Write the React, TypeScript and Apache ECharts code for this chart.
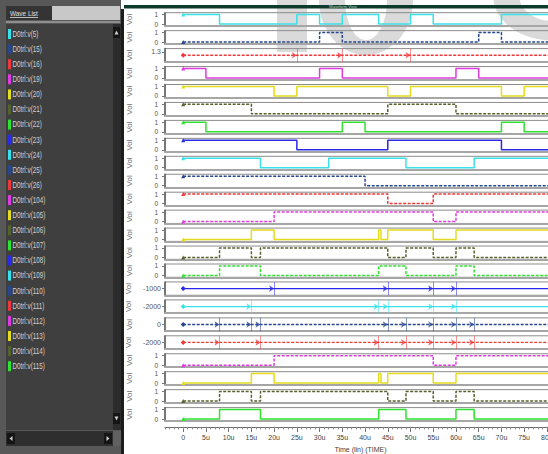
import React, { useEffect, useRef } from "react";
import * as echarts from "echarts";

// ---------- data ----------
const signalNames = [
  "D0trl:v(5)", "D0trl:v(15)", "D0trl:v(16)", "D0trl:v(19)", "D0trl:v(20)", "D0trl:v(21)",
  "D0trl:v(22)", "D0trl:v(23)", "D0trl:v(24)", "D0trl:v(25)", "D0trl:v(26)", "D0trl:v(104)",
  "D0trl:v(105)", "D0trl:v(106)", "D0trl:v(107)", "D0trl:v(108)", "D0trl:v(109)", "D0trl:v(110)",
  "D0trl:v(111)", "D0trl:v(112)", "D0trl:v(113)", "D0trl:v(114)", "D0trl:v(115)",
];

const cyan = "#38e2ea";
const navy = "#27468c";
const red = "#f0383a";
const magenta = "#e03ae0";
const yellow = "#e4dc1c";
const olive = "#56622c";
const green = "#2ee22e";
const blue = "#2a2ae8";

const signalColors = [
  cyan, navy, red, magenta, yellow, olive, green, blue,
  cyan, navy, red, magenta, yellow, olive, green, blue,
  cyan, navy, red, magenta, yellow, olive, green,
];

// digital signals: starting level and toggle times (u)
const v5Start = 1;   const v5Toggles = [8, 25, 30, 35, 43, 50, 55, 70];
const v15Start = 0;  const v15Toggles = [30, 35, 65, 70];
const v19Start = 1;  const v19Toggles = [5, 30, 35, 60, 65];
const v20Start = 1;  const v20Toggles = [20, 25, 45, 50, 70, 75];
const v21Start = 1;  const v21Toggles = [15, 45, 60];
const v22Start = 1;  const v22Toggles = [5, 35, 40, 70, 75];
const v23Start = 1;  const v23Toggles = [25, 45, 70];
const v24Start = 1;  const v24Toggles = [17, 32, 49, 64];
const v25Start = 1;  const v25Toggles = [40];
const v26Start = 1;  const v26Toggles = [45, 55];
const v104Start = 0; const v104Toggles = [20, 55, 60];
const v105Start = 0; const v105Toggles = [15, 20, 43, 43.5, 45, 55, 60];
const v106Start = 0; const v106Toggles = [8, 15, 17, 45, 49, 55, 60, 64];
const v107Start = 0; const v107Toggles = [8, 17, 43, 49, 60, 64];
const v112Start = 0; const v112Toggles = [20, 55, 60];
const v113Start = 0; const v113Toggles = [15, 20, 43, 43.5, 45, 55, 60];
const v114Start = 0; const v114Toggles = [8, 15, 17, 45, 49, 55, 60, 64];
const v115Start = 0; const v115Toggles = [8, 17, 43, 49, 60, 64];

// constant (analog) signals: level and event marks (u)
const v16Level = 1.2;    const v16Marks = [0, 25, 35, 50];
const v108Level = -1000; const v108Marks = [0, 20, 45, 55, 60];
const v109Level = -2000; const v109Marks = [0, 15, 43, 45, 55, 60];
const v110Level = 0;     const v110Marks = [0, 8, 15, 17, 45, 49, 55, 60, 64];
const v111Level = -2000; const v111Marks = [0, 8, 17, 43, 49, 55, 60, 64];

const dashedRows = [
  false, true, true, false, false, true, false, false, false, true, true, true,
  false, true, true, false, false, true, true, true, false, true, false,
];

const xTickValues = [0, 5, 10, 15, 20, 25, 30, 35, 40, 45, 50, 55, 60, 65, 70, 75, 80];
const xTickLabels = ["0", "5u", "10u", "15u", "20u", "25u", "30u", "35u", "40u", "45u", "50u", "55u", "60u", "65u", "70u", "75u", "80u"];

type Row =
  | { kind: "digital"; start: number; toggles: number[] }
  | { kind: "analog"; level: number; marks: number[]; min: number; max: number; labels: number[] };

const rows: Row[] = [
  { kind: "digital", start: v5Start, toggles: v5Toggles },
  { kind: "digital", start: v15Start, toggles: v15Toggles },
  { kind: "analog", level: v16Level, marks: v16Marks, min: 1.0, max: 1.4, labels: [1.1, 1.3] },
  { kind: "digital", start: v19Start, toggles: v19Toggles },
  { kind: "digital", start: v20Start, toggles: v20Toggles },
  { kind: "digital", start: v21Start, toggles: v21Toggles },
  { kind: "digital", start: v22Start, toggles: v22Toggles },
  { kind: "digital", start: v23Start, toggles: v23Toggles },
  { kind: "digital", start: v24Start, toggles: v24Toggles },
  { kind: "digital", start: v25Start, toggles: v25Toggles },
  { kind: "digital", start: v26Start, toggles: v26Toggles },
  { kind: "digital", start: v104Start, toggles: v104Toggles },
  { kind: "digital", start: v105Start, toggles: v105Toggles },
  { kind: "digital", start: v106Start, toggles: v106Toggles },
  { kind: "digital", start: v107Start, toggles: v107Toggles },
  { kind: "analog", level: v108Level, marks: v108Marks, min: -1600, max: -400, labels: [-1000] },
  { kind: "analog", level: v109Level, marks: v109Marks, min: -2600, max: -1400, labels: [-2000] },
  { kind: "analog", level: v110Level, marks: v110Marks, min: -600, max: 600, labels: [0] },
  { kind: "analog", level: v111Level, marks: v111Marks, min: -2600, max: -1400, labels: [-2000] },
  { kind: "digital", start: v112Start, toggles: v112Toggles },
  { kind: "digital", start: v113Start, toggles: v113Toggles },
  { kind: "digital", start: v114Start, toggles: v114Toggles },
  { kind: "digital", start: v115Start, toggles: v115Toggles },
];

// ---------- layout ----------
const CHART_W = 570;
const CHART_H = 454;
const X_MIN = -4;
const X_MAX = 82;
const GRID_LEFT = 165;
const GRID_RIGHT = 14;
const ROW_TOP0 = 12.7;
const ROW_STEP = 17.95;
const ROW_H = 13.3;
const FONT = "Liberation Sans";

function buildOption() {
  const grid: any[] = [];
  const xAxis: any[] = [];
  const yAxis: any[] = [];
  const series: any[] = [];
  const n = rows.length;

  rows.forEach((row, i) => {
    const color = signalColors[i];
    grid.push({
      left: GRID_LEFT,
      right: GRID_RIGHT,
      top: ROW_TOP0 + ROW_STEP * i,
      height: ROW_H,
      show: true,
      borderColor: "#8c8c8c",
      borderWidth: 1,
      backgroundColor: "transparent",
    });
    xAxis.push({
      gridIndex: i,
      type: "value",
      min: X_MIN,
      max: X_MAX,
      axisLine: { show: true, onZero: false, lineStyle: { color: "#a6a6a6", width: 2 } },
      axisTick: { show: false },
      axisLabel: { show: false },
      splitLine: { show: false },
    });
    const isDigital = row.kind === "digital";
    const yMin = isDigital ? -0.2 : (row as any).min;
    const yMax = isDigital ? 1.2 : (row as any).max;
    const labelVals = isDigital ? [0, 1] : (row as any).labels;
    yAxis.push({
      gridIndex: i,
      type: "value",
      min: yMin,
      max: yMax,
      axisLine: { show: true, onZero: false, lineStyle: { color: "#5c5c5c", width: 1.5 } },
      axisTick: {
        show: true,
        length: 3,
        customValues: labelVals,
        lineStyle: { color: "#777" },
      },
      axisLabel: {
        show: true,
        customValues: labelVals,
        fontSize: isDigital ? 6.5 : 7,
        color: "#555",
        margin: isDigital ? 7 : 4,
        fontFamily: FONT,
        formatter: (v: number) => String(v),
      },
      splitLine: { show: false },
      name: "Vol",
      nameLocation: "middle",
      nameRotate: 90,
      nameGap: 32,
      nameTextStyle: { fontSize: 8, color: "#6a6a6a", fontFamily: FONT },
    });

    const lineType = dashedRows[i] ? [3, 1.5] : "solid";
    if (row.kind === "digital") {
      let level = row.start;
      const data: any[] = [
        { value: [0, level], symbol: "triangle", symbolSize: 4 },
      ];
      row.toggles.forEach((t) => {
        level = level === 1 ? 0 : 1;
        data.push([t, level]);
      });
      data.push([X_MAX, level]);
      series.push({
        type: "line",
        xAxisIndex: i,
        yAxisIndex: i,
        step: "end",
        data,
        showSymbol: true,
        symbol: "none",
        silent: true,
        lineStyle: { color, width: 1.5, type: lineType },
        itemStyle: { color },
      });
    } else {
      series.push({
        type: "line",
        xAxisIndex: i,
        yAxisIndex: i,
        data: [
          { value: [0, row.level], symbol: "diamond", symbolSize: 5 },
          [X_MAX, row.level],
        ],
        showSymbol: true,
        symbol: "none",
        silent: true,
        lineStyle: { color, width: 1.3, type: lineType },
        itemStyle: { color },
        markLine: {
          silent: true,
          symbol: "none",
          label: { show: false },
          lineStyle: { color, width: 1, type: "solid", opacity: 0.55 },
          data: row.marks.filter((m) => m > 0).map((m) => ({ xAxis: m })),
        },
      });
      series.push({
        type: "scatter",
        xAxisIndex: i,
        yAxisIndex: i,
        silent: true,
        symbol: "arrow",
        symbolRotate: -90,
        symbolSize: 5,
        itemStyle: { color },
        data: row.marks.filter((m) => m > 0).map((m) => [m, row.level]),
      });
    }
  });

  // time axis (major ticks + labels)
  xAxis.push({
    gridIndex: n - 1,
    type: "value",
    position: "bottom",
    offset: 6,
    min: X_MIN,
    max: X_MAX,
    axisLine: { show: true, onZero: false, lineStyle: { color: "#6a6a6a", width: 1 } },
    axisTick: { show: true, length: 5, customValues: xTickValues, lineStyle: { color: "#6a6a6a" } },
    axisLabel: {
      show: true,
      customValues: xTickValues,
      formatter: (v: number) => xTickLabels[xTickValues.indexOf(v)] ?? "",
      fontSize: 7,
      color: "#444",
      margin: 7,
      fontFamily: FONT,
    },
    splitLine: { show: false },
    name: "Time (lin) (TIME)",
    nameLocation: "middle",
    nameGap: 19,
    nameTextStyle: { fontSize: 7, color: "#444", fontFamily: FONT },
  });
  // time axis (minor ticks)
  xAxis.push({
    gridIndex: n - 1,
    type: "value",
    position: "bottom",
    offset: 6,
    min: X_MIN,
    max: X_MAX,
    interval: 1,
    axisLine: { show: false, onZero: false },
    axisTick: { show: true, length: 2.5, lineStyle: { color: "#8a8a8a" } },
    axisLabel: { show: false },
    splitLine: { show: false },
  });

  // ---------- graphic: left wave list panel, top bar, watermark ----------
  const g: any[] = [];
  // watermark (behind everything)
  g.push({ type: "rect", z: -10, shape: { x: 277, y: 0, width: 30, height: 52 }, style: { fill: "#dadada" } });
  g.push({ type: "ellipse", z: -10, shape: { cx: 366, cy: 0, rx: 47, ry: 55 }, style: { fill: "#dadada" } });
  g.push({ type: "ellipse", z: -9, shape: { cx: 366, cy: 0, rx: 21, ry: 40 }, style: { fill: "#ffffff" } });
  g.push({ type: "ellipse", z: -10, shape: { cx: 550, cy: -5, rx: 57, ry: 45 }, style: { fill: "#dadada" } });
  g.push({ type: "ellipse", z: -9, shape: { cx: 552, cy: -5, rx: 33, ry: 26 }, style: { fill: "#ffffff" } });

  // top dark green bar
  g.push({ type: "rect", z: 50, shape: { x: 124, y: 5, width: 430, height: 3.5 }, style: { fill: "#0e3a2c" } });
  g.push({
    type: "text", z: 51, x: 343, y: 6.8,
    style: { text: "Waveform View", fontSize: 4, fill: "#b8d8c8", align: "center", verticalAlign: "middle", fontFamily: FONT },
  });

  // left panel
  const zP = 100;
  g.push({ type: "rect", z: zP, shape: { x: 0, y: 0, width: 121, height: 454 }, style: { fill: "#585858" } });
  g.push({ type: "rect", z: zP, shape: { x: 6, y: 6, width: 46, height: 14 }, style: { fill: "#343434" } });
  g.push({
    type: "text", z: zP + 1, x: 10, y: 13,
    scaleX: 0.8,
    style: { text: "Wave List", fontSize: 8, fill: "#e0e0e0", verticalAlign: "middle", fontFamily: FONT },
  });
  g.push({ type: "rect", z: zP + 1, shape: { x: 10, y: 17, width: 28, height: 0.8 }, style: { fill: "#e0e0e0" } });
  g.push({ type: "rect", z: zP, shape: { x: 52, y: 6, width: 68, height: 14 }, style: { fill: "#c8c8c8" } });
  g.push({ type: "rect", z: zP, shape: { x: 6, y: 21, width: 114, height: 2 }, style: { fill: "#8e8e8e" } });
  g.push({ type: "rect", z: zP, shape: { x: 6, y: 24, width: 107, height: 406 }, style: { fill: "#3f3f3f" } });
  g.push({ type: "rect", z: zP, shape: { x: 113, y: 24, width: 8, height: 406 }, style: { fill: "#2c2c2c" } });
  g.push({ type: "rect", z: zP + 1, shape: { x: 113, y: 27, width: 7, height: 11 }, style: { fill: "#151515" } });
  g.push({ type: "polygon", z: zP + 2, shape: { points: [[114.5, 34.5], [118.5, 34.5], [116.5, 30.5]] }, style: { fill: "#cfcfcf" } });
  g.push({ type: "rect", z: zP + 1, shape: { x: 113, y: 413, width: 7, height: 11 }, style: { fill: "#151515" } });
  g.push({ type: "polygon", z: zP + 2, shape: { points: [[114.5, 416.5], [118.5, 416.5], [116.5, 420.5]] }, style: { fill: "#cfcfcf" } });
  g.push({ type: "rect", z: zP, shape: { x: 6, y: 431, width: 107, height: 15 }, style: { fill: "#2e2e2e" } });
  g.push({ type: "rect", z: zP + 1, shape: { x: 7, y: 433, width: 8, height: 11 }, style: { fill: "#151515" } });
  g.push({ type: "polygon", z: zP + 2, shape: { points: [[12.5, 436], [12.5, 441], [9.5, 438.5]] }, style: { fill: "#cfcfcf" } });
  g.push({ type: "rect", z: zP + 1, shape: { x: 104, y: 433, width: 8, height: 11 }, style: { fill: "#151515" } });
  g.push({ type: "polygon", z: zP + 2, shape: { points: [[106.5, 436], [106.5, 441], [109.5, 438.5]] }, style: { fill: "#cfcfcf" } });
  g.push({ type: "rect", z: zP, shape: { x: 113, y: 431, width: 8, height: 15 }, style: { fill: "#606060" } });
  g.push({ type: "rect", z: zP, shape: { x: 121, y: 9, width: 3, height: 445 }, style: { fill: "#1c1c1c" } });

  signalNames.forEach((name, i) => {
    const cy = 34 + 15.1 * i;
    g.push({ type: "rect", z: zP + 1, shape: { x: 8, y: cy - 5, width: 3, height: 10 }, style: { fill: signalColors[i] } });
    g.push({
      type: "text", z: zP + 1, x: 12.5, y: cy,
      scaleX: 0.74,
      style: { text: name, fontSize: 8.5, fill: "#d2d2d2", verticalAlign: "middle", fontFamily: FONT },
    });
  });

  return {
    animation: false,
    backgroundColor: "#ffffff",
    grid,
    xAxis,
    yAxis,
    series,
    graphic: { elements: g },
  };
}

export default function App() {
  const ref = useRef<HTMLDivElement | null>(null);
  useEffect(() => {
    if (!ref.current) return;
    const chart = echarts.init(ref.current, undefined, { renderer: "svg" });
    chart.setOption(buildOption() as any);
    return () => chart.dispose();
  }, []);
  return (
    <div style={{ position: "fixed", left: 0, top: 0, width: 548, height: 454, overflow: "hidden", background: "#fff" }}>
      <div ref={ref} style={{ width: CHART_W, height: CHART_H }} />
    </div>
  );
}
